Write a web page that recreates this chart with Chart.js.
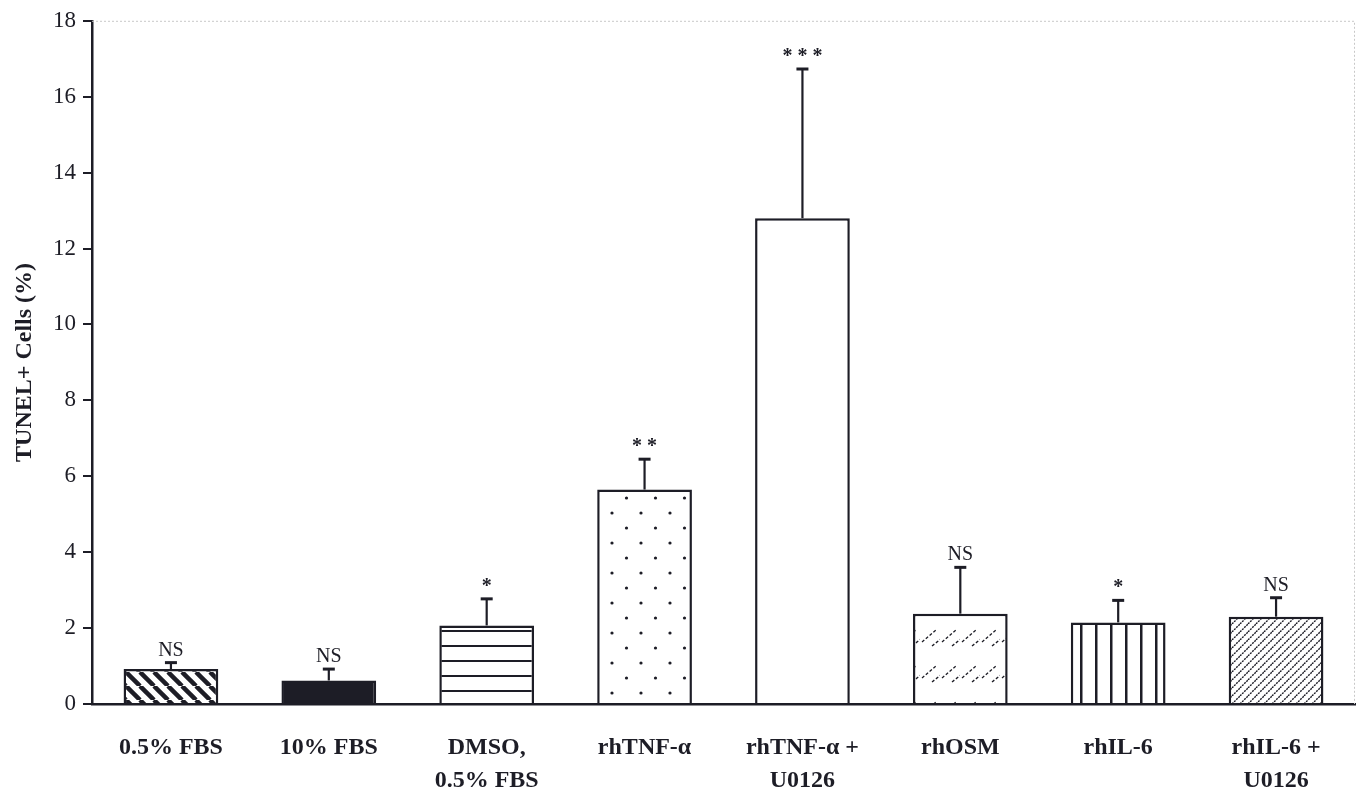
<!DOCTYPE html>
<html lang="en">
<head>
  <meta charset="UTF-8">
  <title>TUNEL+ Cells</title>
  <style>
    html, body { margin: 0; padding: 0; background: #fff; }
    #wrap { width: 1359px; height: 794px; }
  </style>
</head>
<body>
  <div id="wrap"><canvas id="myChart" width="1359" height="794"></canvas></div>

  <script src="https://cdn.jsdelivr.net/npm/chart.js"></script>
  <script>
    // data
    const categories = [['0.5% FBS'], ['10% FBS'], ['DMSO,', '0.5% FBS'], ['rhTNF-\u03b1'],
      ['rhTNF-\u03b1 +', 'U0126'], ['rhOSM'], ['rhIL-6'], ['rhIL-6 +', 'U0126']];
    const means = [0.92, 0.62, 2.07, 5.65, 12.8, 2.38, 2.15, 2.3];
    const errors = [0.17, 0.3, 0.7, 0.8, 3.93, 1.22, 0.58, 0.5];
    const marks = ['NS', 'NS', '*', '**', '***', 'NS', '*', 'NS'];
    const yTicks = [0, 2, 4, 6, 8, 10, 12, 14, 16, 18];

    const ink = '#1d1d26';
    const serif = '"Liberation Serif", "DejaVu Serif", serif';

    function tile(w, h, draw) {
      const c = document.createElement('canvas');
      c.width = w; c.height = h;
      const g = c.getContext('2d');
      g.fillStyle = '#fff';
      g.fillRect(0, 0, w, h);
      g.strokeStyle = ink; g.fillStyle = ink;
      draw(g);
      return document.createElement('canvas').getContext('2d').createPattern(c, 'repeat');
    }

    const fills = [
      // thick back-slash stripes
      tile(14, 14, g => {
        g.lineWidth = 4.5;
        for (let k = -1; k <= 1; k++) {
          g.beginPath(); g.moveTo(k * 14, 0); g.lineTo(k * 14 + 14, 14); g.stroke();
        }
      }),
      ink,
      // horizontal lines
      tile(10, 15.3, g => { g.fillRect(0, 0, 10, 2); }),
      // dots
      tile(29, 30, g => {
        g.beginPath(); g.arc(3, 3, 1.6, 0, Math.PI * 2); g.fill();
        g.beginPath(); g.arc(17.5, 18, 1.6, 0, Math.PI * 2); g.fill();
      }),
      '#ffffff',
      // dashed forward slashes in bands
      tile(20, 36, g => {
        g.lineWidth = 1.3;
        g.setLineDash([3, 2]);
        g.beginPath(); g.moveTo(2, 30); g.lineTo(16, 18); g.stroke();
        g.beginPath(); g.moveTo(12, 34); g.lineTo(22, 26); g.stroke();
      }),
      // vertical lines
      tile(15.5, 10, g => { g.fillRect(0, 0, 2.5, 10); }),
      // thin forward slashes
      tile(8, 8, g => {
        g.lineWidth = 1.4;
        g.setLineDash([2, 1]);
        for (let k = -1; k <= 1; k++) {
          g.beginPath(); g.moveTo(k * 8, 8); g.lineTo(k * 8 + 8, 0); g.stroke();
        }
      })
    ];

    const errorBars = {
      id: 'errorBars',
      afterDatasetsDraw(chart) {
        const ctx = chart.ctx;
        const meta = chart.getDatasetMeta(0);
        const y = chart.scales.y;
        ctx.save();
        ctx.strokeStyle = ink;
        ctx.fillStyle = ink;
        meta.data.forEach((bar, i) => {
          const top = y.getPixelForValue(means[i] + errors[i]);
          ctx.lineWidth = 2.2;
          ctx.beginPath();
          ctx.moveTo(bar.x, bar.y);
          ctx.lineTo(bar.x, top);
          ctx.stroke();
          ctx.lineWidth = 3;
          ctx.beginPath();
          ctx.moveTo(bar.x - 6, top);
          ctx.lineTo(bar.x + 6, top);
          ctx.stroke();
          const star = marks[i] !== 'NS';
          ctx.font = star ? 'bold 20px ' + serif : '20px ' + serif;
          ctx.textAlign = 'center';
          ctx.textBaseline = 'alphabetic';
          ctx.fillText(star ? marks[i].split('').join(' ') : marks[i], bar.x, top - (star ? 7 : 7));
        });
        // faint frame on top and right
        const a = chart.chartArea;
        ctx.strokeStyle = '#c8c8c8';
        ctx.lineWidth = 1;
        ctx.setLineDash([2, 2]);
        ctx.beginPath();
        ctx.moveTo(a.left, a.top + 0.5);
        ctx.lineTo(a.right - 0.5, a.top + 0.5);
        ctx.lineTo(a.right - 0.5, a.bottom);
        ctx.stroke();
        ctx.restore();
      }
    };

    new Chart(document.getElementById('myChart'), {
      type: 'bar',
      data: {
        labels: categories,
        datasets: [{
          data: means,
          backgroundColor: fills,
          borderColor: ink,
          borderWidth: 2.5,
          borderSkipped: 'bottom',
          categoryPercentage: 1,
          barPercentage: 0.6
        }]
      },
      options: {
        responsive: false,
        animation: false,
        devicePixelRatio: 1,
        layout: { padding: { top: 18, right: 4, left: 0, bottom: 0 } },
        plugins: { legend: { display: false }, tooltip: { enabled: false } },
        scales: {
          x: {
            grid: { display: false },
            border: { display: true, color: ink, width: 2.5 },
            ticks: {
              color: ink,
              font: { family: serif, size: 24, weight: 'bold', lineHeight: 1.35 },
              padding: 20,
              maxRotation: 0,
              autoSkip: false
            },
            afterFit(s) { s.height = 90; }
          },
          y: {
            min: 0,
            max: 18,
            afterBuildTicks(s) { s.ticks = yTicks.map(v => ({ value: v })); },
            grid: { display: true, drawOnChartArea: false, drawTicks: true, tickLength: 9, color: ink, lineWidth: 2 },
            border: { display: true, color: ink, width: 2.5 },
            ticks: {
              color: ink,
              font: { family: serif, size: 23 },
              padding: 7
            },
            title: {
              display: true,
              text: 'TUNEL+ Cells (%)',
              color: ink,
              font: { family: serif, size: 24, weight: 'bold' },
              padding: { top: 10, bottom: 0 }
            },
            afterFit(s) { s.width = 92; }
          }
        }
      },
      plugins: [errorBars]
    });
  </script>
</body>
</html>
